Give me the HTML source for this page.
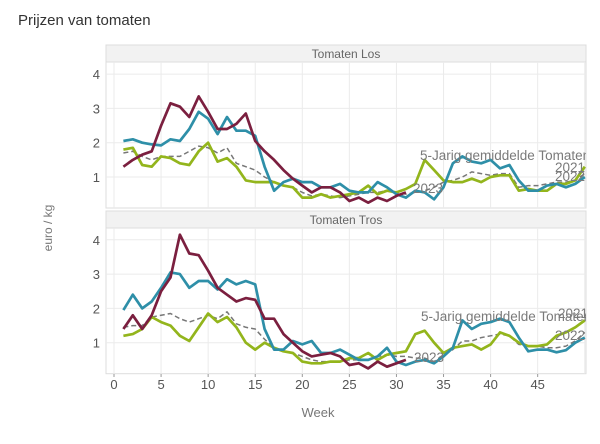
<!DOCTYPE html><html><head><style>body{margin:0;background:#fff;width:600px;height:439px;overflow:hidden;font-family:"Liberation Sans",sans-serif}</style></head><body>
<svg id="s" width="600" height="439" xmlns="http://www.w3.org/2000/svg" font-family="Liberation Sans, sans-serif">
<text x="18" y="25" font-size="15" fill="#333">Prijzen van tomaten</text>
<text transform="translate(52,228) rotate(-90)" font-size="12" fill="#777" text-anchor="middle">euro / kg</text>
<text x="318" y="417" font-size="13" fill="#777" text-anchor="middle">Week</text>
</svg>
<script>
const s=document.getElementById('s');const NS='http://www.w3.org/2000/svg';
function el(t,a,txt){const e=document.createElementNS(NS,t);for(const k in a)e.setAttribute(k,a[k]);if(txt!==undefined)e.textContent=txt;s.appendChild(e);return e;}
const X=w=>114+9.415*w, L=106,R=586;
const P=[
{top:45,base:211.3,title:"Tomaten Los",
b:[2.05,2.1,2.0,1.95,1.92,2.1,2.05,2.4,2.9,2.7,2.25,2.75,2.35,2.35,2.2,1.3,0.6,0.85,0.95,0.85,0.85,0.7,0.7,0.8,0.6,0.55,0.55,0.85,0.7,0.5,0.4,0.6,0.55,0.35,0.7,1.4,1.6,1.45,1.4,1.5,1.25,1.35,0.9,0.6,0.6,0.75,0.8,0.7,0.8,1.0],
r:[1.3,1.5,1.65,1.75,2.5,3.15,3.05,2.75,3.35,2.9,2.4,2.4,2.55,2.85,2.05,1.75,1.5,1.2,0.95,0.75,0.55,0.7,0.7,0.55,0.3,0.4,0.25,0.4,0.3,0.45,0.55],
g:[1.8,1.85,1.35,1.3,1.6,1.55,1.4,1.35,1.75,2.0,1.45,1.55,1.3,0.9,0.85,0.85,0.85,0.75,0.7,0.4,0.4,0.5,0.4,0.45,0.5,0.55,0.75,0.5,0.6,0.55,0.65,0.8,1.5,1.2,0.9,0.85,0.85,0.95,0.85,1.0,1.05,1.05,0.6,0.65,0.6,0.6,0.8,0.8,0.9,1.3],
d:[1.7,1.75,1.6,1.5,1.6,1.6,1.6,1.75,1.9,1.85,1.7,1.85,1.4,1.3,1.2,1.0,0.85,0.75,0.7,0.55,0.45,0.5,0.45,0.4,0.45,0.5,0.55,0.55,0.6,0.55,0.5,0.55,0.6,0.7,0.85,0.9,1.0,1.15,1.1,1.05,1.1,1.1,0.7,0.75,0.75,0.8,0.85,0.85,0.9,1.1],
lab:[["5-Jarig gemiddelde Tomaten",420,160],["2021",555,172],["2022",555,181],["2023",413,193]]},
{top:211,base:377,title:"Tomaten Tros",
b:[1.95,2.4,2.0,2.2,2.6,3.05,3.0,2.6,2.8,2.8,2.55,2.85,2.7,2.8,2.7,1.4,0.8,0.8,1.05,0.95,1.05,0.7,0.7,0.8,0.65,0.5,0.5,0.6,0.85,0.45,0.35,0.45,0.5,0.4,0.6,0.85,1.65,1.4,1.55,1.6,1.7,1.6,1.15,0.75,0.8,0.8,0.72,0.78,1.0,1.15],
r:[1.4,1.8,1.4,1.8,2.5,2.9,4.15,3.6,3.55,3.1,2.6,2.4,2.2,2.3,2.25,1.7,1.7,1.25,1.0,0.75,0.6,0.65,0.7,0.6,0.35,0.4,0.25,0.45,0.3,0.4,0.5],
g:[1.2,1.25,1.4,1.75,1.6,1.5,1.2,1.05,1.45,1.85,1.6,1.75,1.45,1.0,0.8,1.0,0.85,0.75,0.7,0.45,0.4,0.4,0.45,0.45,0.55,0.55,0.7,0.5,0.65,0.7,0.75,1.25,1.35,1.0,0.7,0.85,0.9,0.95,0.8,0.95,1.3,1.2,1.0,0.9,0.9,0.95,1.2,1.3,1.45,1.65],
d:[1.45,1.5,1.5,1.75,1.8,1.85,1.7,1.6,1.7,1.8,1.7,1.9,1.55,1.45,1.4,1.1,0.85,0.75,0.7,0.6,0.5,0.45,0.45,0.45,0.5,0.5,0.5,0.6,0.65,0.6,0.6,0.55,0.55,0.45,0.65,0.8,1.05,1.05,1.15,1.2,1.25,1.2,0.95,0.9,0.9,0.85,0.85,0.9,1.05,1.3],
lab:[["5-Jarig gemiddelde Tomaten",421,321],["2021",558,318],["2022",555,340],["2023",414,362]]}];
P.forEach((p,i)=>{const Y=v=>p.base-34.3*v, pt=p.top+17, pb=p.base-3.3;
el('rect',{x:L,y:p.top,width:R-L,height:17,fill:'#f2f2f2',stroke:'#ddd'});
el('text',{x:(L+R)/2,y:p.top+13,'font-size':12,fill:'#666','text-anchor':'middle'},p.title);
el('rect',{x:L,y:pt,width:R-L,height:pb-pt,fill:'#fff',stroke:'#ddd'});
const cid='c'+i;const cp=el('clipPath',{id:cid});const r=document.createElementNS(NS,'rect');r.setAttribute('x',L);r.setAttribute('y',pt);r.setAttribute('width',R-L);r.setAttribute('height',pb-pt);cp.appendChild(r);
for(let w=0;w<=50;w+=5){if(X(w)<R)el('line',{x1:X(w),x2:X(w),y1:pt,y2:pb,stroke:'#ebebeb'});}
for(let v=1;v<=4;v++){el('line',{x1:L,x2:R,y1:Y(v),y2:Y(v),stroke:'#ebebeb'});el('text',{x:100,y:Y(v)+5,'font-size':13,fill:'#555','text-anchor':'end'},String(v));}
const g=el('g',{'clip-path':`url(#${cid})`});
const line=(arr,c,dash)=>{const pe=document.createElementNS(NS,'polyline');pe.setAttribute('points',arr.map((v,j)=>X(j+1).toFixed(1)+','+Y(v).toFixed(1)).join(' '));pe.setAttribute('fill','none');pe.setAttribute('stroke',c);pe.setAttribute('stroke-width',dash?1.5:2.7);pe.setAttribute('stroke-linejoin','round');if(dash)pe.setAttribute('stroke-dasharray','5,3');g.appendChild(pe);};
line(p.d,'#777',1);line(p.g,'#93b51c');line(p.b,'#2e8fa8');line(p.r,'#7b1f3f');
p.lab.forEach(l=>{const t=document.createElementNS(NS,'text');t.setAttribute('x',l[1]);t.setAttribute('y',l[2]);t.setAttribute('font-size',13.5);t.setAttribute('fill','#7a7a7a');t.textContent=l[0];g.appendChild(t);});
});
for(let w=0;w<=45;w+=5){el('text',{x:X(w),y:389,'font-size':13,fill:'#555','text-anchor':'middle'},String(w));el('line',{x1:X(w),x2:X(w),y1:374,y2:377,stroke:'#999'});}
</script>
</body></html>
